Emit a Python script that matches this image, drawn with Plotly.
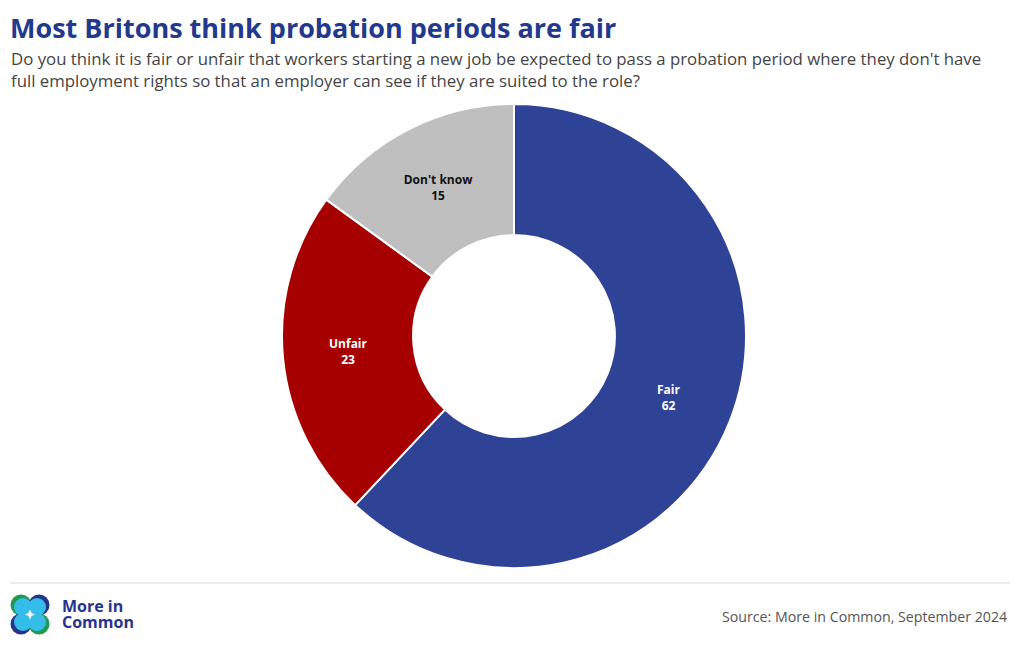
import plotly.graph_objects as go

# The page body has an 8px margin, so the figure sits at (8, 8).
OFF = 8
W, H = 1020 - OFF, 650 - OFF

labels = ["Fair", "Unfair", "Don't know"]
values = [62, 23, 15]
colors = ["#2f4396", "#a60000", "#bfbfbf"]
text_colors = ["#ffffff", "#ffffff", "#111111"]

title = "Most Britons think probation periods are fair"
subtitle_lines = [
    "Do you think it is fair or unfair that workers starting a new job be expected to pass a probation period where they don't have",
    "full employment rights so that an employer can see if they are suited to the role?",
]
source = "Source: More in Common, September 2024"
logo_lines = ["More in", "Common"]


def px(x):
    return (x - OFF) / W


def py(y):
    return 1 - (y - OFF) / H


fig = go.Figure(go.Pie(
    labels=labels,
    values=values,
    hole=0.435,
    sort=False,
    direction="clockwise",
    rotation=0,
    marker=dict(colors=colors, line=dict(color="#ffffff", width=2)),
    texttemplate="<b>%{label}</b><br><b>%{value}</b>",
    textposition="inside",
    insidetextorientation="horizontal",
    textfont=dict(family="Open Sans, Arial, sans-serif", size=12, color=text_colors),
    showlegend=False,
    domain=dict(x=[0, 1], y=[py(568), py(104)]),
))

shapes = [
    dict(type="line", xref="paper", yref="paper", x0=px(10), x1=px(1010), y0=py(583), y1=py(583),
         line=dict(color="#d9d9d9", width=1)),
]

# logo: four circles
logo = [((21, 605), "#1f9a55"), ((39, 605), "#27348b"), ((21, 624), "#27348b"), ((39, 624), "#1f9a55")]
r = 10.5
for (cx, cy), c in logo:
    shapes.append(dict(type="circle", xref="paper", yref="paper",
                       x0=px(cx - r), x1=px(cx + r), y0=py(cy + r), y1=py(cy - r),
                       fillcolor=c, line=dict(width=0)))
for (cx, cy), c in logo:
    dx = 2 if cx < 30 else -2
    dy = 2 if cy < 615 else -2
    rr = 9
    shapes.append(dict(type="circle", xref="paper", yref="paper",
                       x0=px(cx + dx - rr), x1=px(cx + dx + rr), y0=py(cy + dy + rr), y1=py(cy + dy - rr),
                       fillcolor="#35bde9", line=dict(width=0)))
cx, cy = 30, 614.5
star = (f"M {px(cx)} {py(cy-5)} L {px(cx+1.5)} {py(cy-1.5)} L {px(cx+5)} {py(cy)} L {px(cx+1.5)} {py(cy+1.5)} "
        f"L {px(cx)} {py(cy+5)} L {px(cx-1.5)} {py(cy+1.5)} L {px(cx-5)} {py(cy)} L {px(cx-1.5)} {py(cy-1.5)} Z")
shapes.append(dict(type="path", xref="paper", yref="paper", path=star, fillcolor="#ffffff", line=dict(width=0)))

annotations = [
    dict(text=f"<b>{title}</b>", x=px(9), y=py(8), xref="paper", yref="paper",
         xanchor="left", yanchor="top", showarrow=False, borderpad=0,
         font=dict(family="Open Sans, Arial, sans-serif", size=27, color="#233a8c")),
    dict(text=subtitle_lines[0], x=px(9), y=py(59), xref="paper", yref="paper",
         xanchor="left", yanchor="middle", showarrow=False, align="left",
         font=dict(family="Open Sans, Arial, sans-serif", size=16.8, color="#444444")),
    dict(text=subtitle_lines[1], x=px(9), y=py(80), xref="paper", yref="paper",
         xanchor="left", yanchor="middle", showarrow=False, align="left",
         font=dict(family="Open Sans, Arial, sans-serif", size=16.8, color="#444444")),
    dict(text=f"<b>{logo_lines[0]}</b>", x=px(61), y=py(605.5), xref="paper", yref="paper",
         xanchor="left", yanchor="middle", showarrow=False, align="left", height=16, borderpad=0,
         font=dict(family="Open Sans, Arial, sans-serif", size=16, color="#27348b")),
    dict(text=f"<b>{logo_lines[1]}</b>", x=px(61), y=py(622), xref="paper", yref="paper",
         xanchor="left", yanchor="middle", showarrow=False, align="left", height=16, borderpad=0,
         font=dict(family="Open Sans, Arial, sans-serif", size=16, color="#27348b")),
    dict(text=source, x=px(1009), y=py(616), xref="paper", yref="paper",
         xanchor="right", yanchor="middle", showarrow=False,
         font=dict(family="Open Sans, Arial, sans-serif", size=14.2, color="#555555")),
]

fig.update_layout(
    width=W, height=H,
    margin=dict(l=0, r=0, t=0, b=0),
    paper_bgcolor="#ffffff",
    plot_bgcolor="#ffffff",
    shapes=shapes,
    annotations=annotations,
)

fig.write_html("out.html")
